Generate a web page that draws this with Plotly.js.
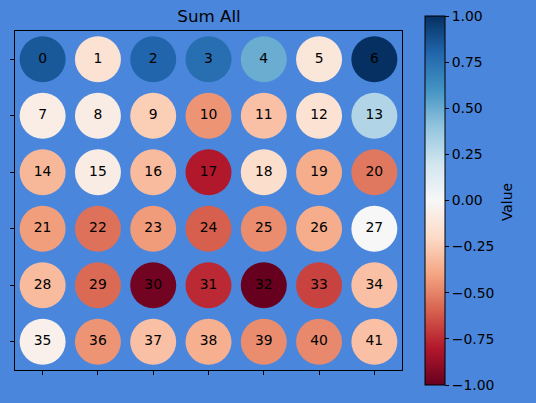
<!DOCTYPE html>
<html><head><meta charset="utf-8">
<script src="https://cdn.plot.ly/plotly-3.0.1.min.js"></script>
<style>html,body{margin:0;padding:0;background:#4a86dc;}</style>
</head><body>
<div id="chart" style="width:536px;height:403px;"></div>
<script>
const nCols = 7;
const nRows = 6;
const labels = Array.from({length: 42}, (_, i) => String(i));
const values = [
  0.85, -0.15, 0.80, 0.76, 0.50, -0.12, 1.00,
  -0.07, -0.08, -0.25, -0.45, -0.30, -0.15, 0.30,
  -0.33, -0.08, -0.32, -0.80, -0.18, -0.37, -0.53,
  -0.42, -0.55, -0.43, -0.60, -0.47, -0.37, 0.00,
  -0.32, -0.57, -0.97, -0.75, -1.00, -0.68, -0.30,
  -0.05, -0.45, -0.30, -0.36, -0.47, -0.48, -0.30
];
const cbTicks = [-1, -0.75, -0.5, -0.25, 0, 0.25, 0.5, 0.75, 1];
const cbTickText = cbTicks.map(v => (v < 0 ? '\u2212' : '') + Math.abs(v).toFixed(2));

const xs = values.map((_, i) => i % nCols);
const ys = values.map((_, i) => Math.floor(i / nCols));

const rdbu = ['#67001f','#b2182b','#d6604d','#f4a582','#fddbc7','#f7f7f7','#d1e5f0','#92c5de','#4393c3','#2166ac','#053061'];
const colorscale = rdbu.map((c, i) => [i / (rdbu.length - 1), c]);
const fontFam = 'DejaVu Sans';

const trace = {
  type: 'scatter',
  mode: 'markers+text',
  x: xs, y: ys,
  text: labels,
  textposition: 'middle center',
  textfont: {family: fontFam, size: 13.9, color: '#000'},
  hoverinfo: 'none',
  marker: {
    size: 46,
    color: values,
    cmin: -1, cmax: 1,
    colorscale: colorscale,
    line: {width: 0},
    opacity: 1,
    showscale: true,
    colorbar: {
      x: 1.0594, xanchor: 'left', xpad: 0,
      y: 0.5, yanchor: 'middle', ypad: 0,
      thickness: 20, thicknessmode: 'pixels',
      len: 369, lenmode: 'pixels',
      outlinewidth: 1, outlinecolor: '#000',
      tickvals: cbTicks, ticktext: cbTickText,
      ticks: 'outside', ticklen: 4, tickwidth: 1, tickcolor: '#000',
      tickfont: {family: fontFam, size: 13.9, color: '#000'},
      title: {text: '', side: 'right'}
    }
  }
};

const layout = {
  width: 536, height: 403,
  margin: {l: 15, r: 134, t: 31, b: 33},
  paper_bgcolor: '#4a86dc',
  plot_bgcolor: '#4a86dc',
  showlegend: false,
  title: {text: 'Sum All', font: {family: fontFam, size: 16.7, color: '#000'}, x: 0.39, xanchor: 'center', y: 0.96, yanchor: 'middle'},
  annotations: [{
    text: 'Value', xref: 'paper', yref: 'paper', x: 1.271, y: 0.495,
    xanchor: 'center', yanchor: 'middle', textangle: -90, showarrow: false,
    font: {family: fontFam, size: 13.9, color: '#000'}
  }],
  xaxis: {
    range: [-0.5, nCols - 0.5], tickvals: xs.slice(0, nCols), showticklabels: false,
    ticks: 'outside', ticklen: 4, tickwidth: 1, tickcolor: '#000',
    showgrid: false, zeroline: false, showline: true, linecolor: '#000', linewidth: 1, mirror: true
  },
  yaxis: {
    range: [nRows - 0.5, -0.5], tickvals: [0,1,2,3,4,5], showticklabels: false,
    ticks: 'outside', ticklen: 4, tickwidth: 1, tickcolor: '#000',
    showgrid: false, zeroline: false, showline: true, linecolor: '#000', linewidth: 1, mirror: true
  }
};

Plotly.newPlot('chart', [trace], layout, {displayModeBar: false, staticPlot: true});
</script>
</body></html>
